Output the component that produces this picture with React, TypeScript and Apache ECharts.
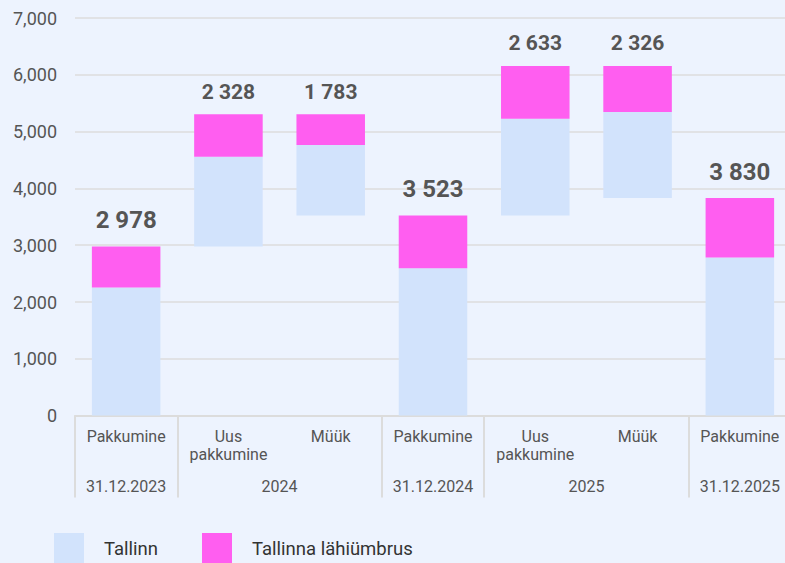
import React, { useEffect, useRef } from "react";
import * as echarts from "echarts";

const categories = ["Pakkumine", "Uus\npakkumine", "Müük", "Pakkumine", "Uus\npakkumine", "Müük", "Pakkumine"];
const stepTypes = ["total", "increase", "decrease", "total", "increase", "decrease", "total"];
const totals = [2978, 2328, 1783, 3523, 2633, 2326, 3830];
const tallinn = [2255, 1579, 1240, 2594, 1703, 1514, 2783];
const lahiumbrus = [723, 749, 543, 929, 930, 812, 1047];
const groupLabels = ["31.12.2023", "2024", "31.12.2024", "2025", "31.12.2025"];
const groupSpans = [1, 2, 1, 2, 1];
const yTicks = [0, 1000, 2000, 3000, 4000, 5000, 6000, 7000];
const seriesNames = ["Tallinn", "Tallinna lähiümbrus"];

function buildBase(): number[] {
  const base: number[] = [];
  let running = 0;
  totals.forEach((v, i) => {
    const t = stepTypes[i];
    if (t === "total") {
      base.push(0);
      running = v;
    } else if (t === "increase") {
      base.push(running);
      running += v;
    } else {
      running -= v;
      base.push(running);
    }
  });
  return base;
}

function groupCenters(): Record<string, string> {
  const map: Record<string, string> = {};
  let start = 0;
  groupSpans.forEach((s, i) => {
    map[String(start + s / 2)] = groupLabels[i];
    start += s;
  });
  return map;
}

function boundaryIndices(): Set<number> {
  const set = new Set<number>();
  let start = 0;
  groupSpans.forEach((s) => {
    set.add(start);
    start += s;
  });
  return set;
}

const fmtSpace = (v: number) => String(v).replace(/\B(?=(\d{3})+(?!\d))/g, " ");

export default function App() {
  const ref = useRef<HTMLDivElement>(null);
  useEffect(() => {
    if (!ref.current) return;
    const chart = echarts.init(ref.current, null, { renderer: "svg" });
    const base = buildBase();
    const centers = groupCenters();
    const bounds = boundaryIndices();
    const font = "Roboto";
    const topData = lahiumbrus.map((v, i) => {
      const isTotal = stepTypes[i] === "total";
      return {
        value: v,
        label: { fontSize: isTotal ? 24 : 21, distance: isTotal ? 14 : 12 },
      };
    });
    chart.setOption({
      animation: false,
      backgroundColor: "#EDF3FE",
      textStyle: { fontFamily: font },
      grid: { left: 75, top: 18, width: 716, height: 397.6, containLabel: false, outerBoundsMode: "none" },
      legend: {
        data: seriesNames,
        left: 54,
        top: 533,
        padding: 0,
        itemWidth: 30,
        itemHeight: 32,
        itemGap: 44,
        icon: "rect",
        textStyle: { fontSize: 18.5, color: "#333", fontFamily: font, padding: [0, 0, 0, 15] },
      },
      xAxis: [
        {
          type: "category",
          data: categories,
          axisLine: { show: true, lineStyle: { color: "#dcdcdc", width: 2 } },
          axisTick: {
            show: true,
            interval: (index: number) => bounds.has(index),
            length: 82,
            lineStyle: { color: "#dcdcdc", width: 2 },
          },
          axisLabel: { interval: 0, fontSize: 16, color: "#555", lineHeight: 18, margin: 12, fontFamily: font },
        },
        {
          type: "value",
          position: "bottom",
          min: 0,
          max: categories.length,
          interval: 0.5,
          axisLine: { show: false },
          axisTick: { show: false },
          splitLine: { show: false },
          axisLabel: {
            margin: 63,
            fontSize: 16,
            color: "#555",
            fontFamily: font,
            showMinLabel: true,
            showMaxLabel: true,
            formatter: (v: number) => centers[String(v)] || "",
          },
        },
      ],
      yAxis: {
        type: "value",
        min: 0,
        max: yTicks[yTicks.length - 1],
        interval: 1000,
        axisLine: { show: false },
        axisTick: { show: false },
        splitLine: { lineStyle: { color: "#dcdcdc", width: 1.5 } },
        axisLabel: {
          fontSize: 18,
          color: "#555",
          margin: 18,
          fontFamily: font,
          formatter: (v: number) => v.toLocaleString("en-US"),
        },
      },
      series: [
        {
          name: "base",
          type: "bar",
          stack: "total",
          data: base,
          barWidth: "67%",
          itemStyle: { color: "rgba(0,0,0,0)" },
          silent: true,
        },
        {
          name: seriesNames[0],
          type: "bar",
          stack: "total",
          data: tallinn,
          barWidth: "67%",
          itemStyle: { color: "#D2E3FC" },
        },
        {
          name: seriesNames[1],
          type: "bar",
          stack: "total",
          data: topData,
          barWidth: "67%",
          itemStyle: { color: "#FF5EF0" },
          label: {
            show: true,
            position: "top",
            fontWeight: "bold",
            color: "#555",
            fontFamily: font,
            formatter: (p: any) => fmtSpace(totals[p.dataIndex]),
          },
        },
      ],
    });
    return () => chart.dispose();
  }, []);
  return (
    <div
      ref={ref}
      style={{ position: "fixed", left: 0, top: 0, width: 785, height: 563, background: "#EDF3FE" }}
    />
  );
}
